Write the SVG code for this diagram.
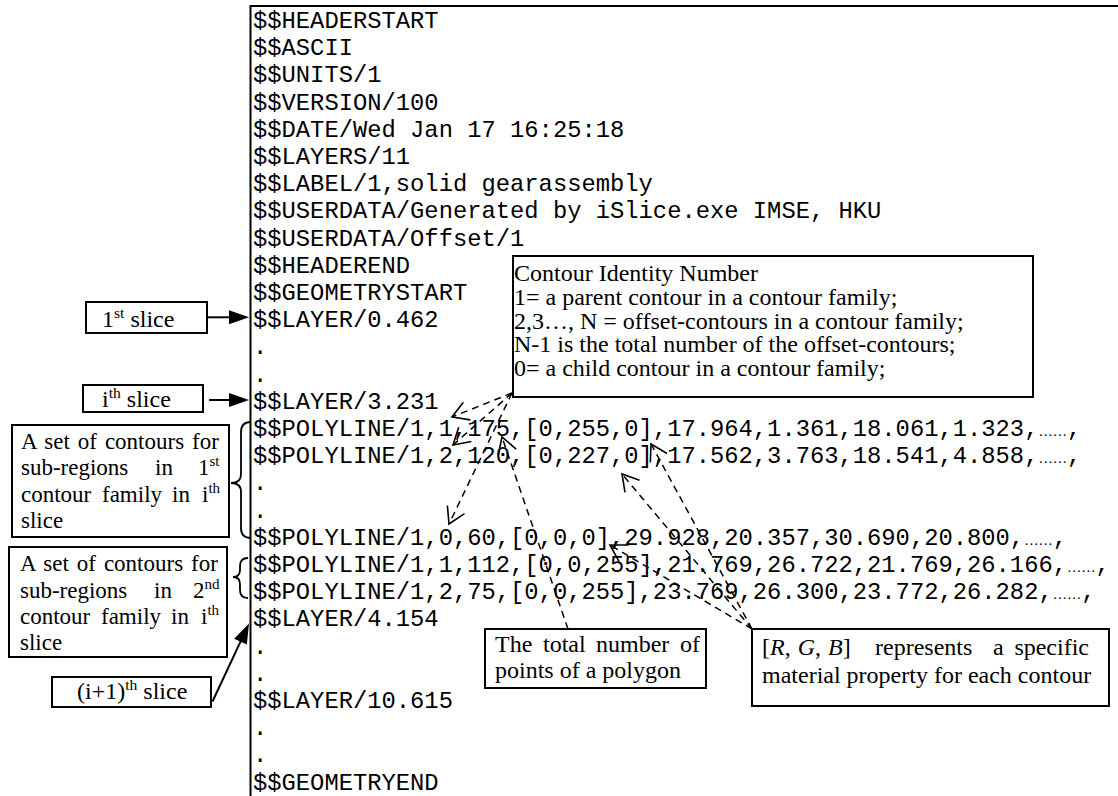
<svg xmlns="http://www.w3.org/2000/svg" width="1118" height="796" viewBox="0 0 1118 796">
<defs>
<style>
.mono{font-family:"Liberation Mono","Courier New",monospace;font-size:23.8px;fill:#000}
.ell{font-family:"Liberation Serif","Times New Roman",serif;font-size:14.3px}
.s24{font-family:"Liberation Serif","Times New Roman",serif;font-size:24px;fill:#000}
.s23{font-family:"Liberation Serif","Times New Roman",serif;font-size:23px;fill:#000}
.box{fill:#fff;stroke:#000;stroke-width:2}
.frame{fill:none;stroke:#000;stroke-width:2}
.dash{fill:none;stroke:#000;stroke-width:1.5;stroke-dasharray:7 5;marker-end:url(#open)}
.solid{fill:none;stroke:#000;stroke-width:2;marker-end:url(#filled)}
.brace{fill:none;stroke:#000;stroke-width:1.8}
</style>
<marker id="open" markerUnits="userSpaceOnUse" markerWidth="24" markerHeight="24" viewBox="-20 -12 24 24" refX="0" refY="0" orient="auto">
<path d="M-16,-9.5 L0,0 L-16,9.5" fill="none" stroke="#000" stroke-width="1.6"/>
</marker>
<marker id="filled" markerUnits="userSpaceOnUse" markerWidth="26" markerHeight="18" viewBox="-10 -9 26 18" refX="0" refY="0" orient="auto">
<path d="M-8,-7 L12,0 L-8,7 Z" fill="#000"/>
</marker>
</defs>

<rect x="0" y="0" width="1118" height="796" fill="#fff"/>

<g id="frame">
<path class="frame" d="M1118,6 L250.5,6 L250.5,796"/>
</g>

<g id="code" class="mono">
<text x="253" y="28">$$HEADERSTART</text>
<text x="253" y="55.2">$$ASCII</text>
<text x="253" y="82.4">$$UNITS/1</text>
<text x="253" y="109.6">$$VERSION/100</text>
<text x="253" y="136.8">$$DATE/Wed Jan 17 16:25:18</text>
<text x="253" y="164">$$LAYERS/11</text>
<text x="253" y="191.2">$$LABEL/1,solid gearassembly</text>
<text x="253" y="218.4">$$USERDATA/Generated by iSlice.exe IMSE, HKU</text>
<text x="253" y="245.6">$$USERDATA/Offset/1</text>
<text x="253" y="272.8">$$HEADEREND</text>
<text x="253" y="300">$$GEOMETRYSTART</text>
<text x="253" y="327.2">$$LAYER/0.462</text>
<text x="253" y="354.4">.</text>
<text x="253" y="381.6">.</text>
<text x="253" y="408.8">$$LAYER/3.231</text>
<text x="253" y="436">$$POLYLINE/1,1,175,[0,255,0],17.964,1.361,18.061,1.323,<tspan class="ell">……</tspan>,</text>
<text x="253" y="463.2">$$POLYLINE/1,2,120,[0,227,0],17.562,3.763,18.541,4.858,<tspan class="ell">……</tspan>,</text>
<text x="253" y="490.4">.</text>
<text x="253" y="517.6">.</text>
<text x="253" y="544.8">$$POLYLINE/1,0,60,[0,0,0],29.928,20.357,30.690,20.800,<tspan class="ell">……</tspan>,</text>
<text x="253" y="572">$$POLYLINE/1,1,112,[0,0,255],21.769,26.722,21.769,26.166,<tspan class="ell">……</tspan>,</text>
<text x="253" y="599.2">$$POLYLINE/1,2,75,[0,0,255],23.769,26.300,23.772,26.282,<tspan class="ell">……</tspan>,</text>
<text x="253" y="626.4">$$LAYER/4.154</text>
<text x="253" y="653.6">.</text>
<text x="253" y="680.8">.</text>
<text x="253" y="708">$$LAYER/10.615</text>
<text x="253" y="735.2">.</text>
<text x="253" y="762.4">.</text>
<text x="253" y="789.6">$$GEOMETRYEND</text>
</g>

<g id="n-first-slice">
<rect class="box" x="86" y="302" width="121" height="31"/>
<text class="s24" x="102" y="326.5">1<tspan dy="-9" font-size="15.6">st</tspan><tspan dy="9"> slice</tspan></text>
</g>

<g id="n-ith-slice">
<rect class="box" x="83" y="385" width="120" height="27"/>
<text class="s24" x="102" y="406.5">i<tspan dy="-9" font-size="15.6">th</tspan><tspan dy="9"> slice</tspan></text>
</g>

<g id="n-set1">
<rect class="box" x="12" y="425" width="217" height="112"/>
<text class="s23" x="21" y="449" word-spacing="2.2">A set of contours for</text>
<text class="s23" x="21" y="475">sub-regions</text>
<text class="s23" x="155" y="475">in</text>
<text class="s23" x="198" y="475">1<tspan dy="-9" font-size="15px">st</tspan></text>
<text class="s23" x="21" y="502">contour</text>
<text class="s23" x="102" y="502">family</text>
<text class="s23" x="172" y="502">in</text>
<text class="s23" x="202" y="502">i<tspan dy="-9" font-size="15px">th</tspan></text>
<text class="s23" x="21" y="528">slice</text>
</g>

<g id="n-set2">
<rect class="box" x="9" y="547" width="218" height="110"/>
<text class="s23" x="20" y="571" word-spacing="2.2">A set of contours for</text>
<text class="s23" x="20" y="598">sub-regions</text>
<text class="s23" x="154" y="598">in</text>
<text class="s23" x="193" y="598">2<tspan dy="-9" font-size="15px">nd</tspan></text>
<text class="s23" x="20" y="624">contour</text>
<text class="s23" x="101" y="624">family</text>
<text class="s23" x="171" y="624">in</text>
<text class="s23" x="201" y="624">i<tspan dy="-9" font-size="15px">th</tspan></text>
<text class="s23" x="20" y="650">slice</text>
</g>

<g id="n-next-slice">
<rect class="box" x="52" y="677" width="159" height="30"/>
<text class="s24" x="77" y="699">(i+1)<tspan dy="-9" font-size="15.6">th</tspan><tspan dy="9"> slice</tspan></text>
</g>

<g id="n-contour-id">
<rect class="box" x="513" y="256" width="520" height="141"/>
<text class="s24" x="514" y="281">Contour Identity Number</text>
<text class="s24" x="514" y="305">1= a parent contour in a contour family;</text>
<text class="s24" x="514" y="328.5">2,3…, N = offset-contours in a contour family;</text>
<text class="s24" x="514" y="352">N-1 is the total number of the offset-contours;</text>
<text class="s24" x="514" y="376">0= a child contour in a contour family;</text>
</g>

<g id="n-total-points">
<rect class="box" x="485" y="629" width="221" height="59"/>
<text class="s24" x="495" y="651.5">The</text>
<text class="s24" x="543" y="651.5">total</text>
<text class="s24" x="596" y="651.5">number</text>
<text class="s24" x="700" y="651.5" text-anchor="end">of</text>
<text class="s24" x="495" y="678">points of a polygon</text>
</g>

<g id="n-rgb">
<rect class="box" x="752" y="629" width="357" height="77"/>
<text class="s24" x="762" y="655">[<tspan font-style="italic">R</tspan>,<tspan dx="7" font-style="italic">G</tspan>,<tspan dx="7" font-style="italic">B</tspan>]</text>
<text class="s24" x="875" y="655">represents</text>
<text class="s24" x="993" y="655">a</text>
<text class="s24" x="1089" y="655" text-anchor="end">specific</text>
<text class="s24" x="762" y="682.5">material property for each contour</text>
</g>

<g id="connectors">
<line class="solid" x1="207" y1="317.3" x2="237" y2="317.3"/>
<line class="solid" x1="209" y1="400" x2="237" y2="400"/>
<line class="solid" x1="212.5" y1="701.5" x2="243.9" y2="634.4"/>
<path class="brace" d="M251,422 Q241,422 241,432 L241,474 Q241,483 231,483 Q241,483 241,492 L241,528 Q241,538 251,538"/>
<path class="brace" d="M248,558 Q240,558 240,566 L240,570 Q240,577 233,577 Q240,577 240,584 L240,590 Q240,598 248,598"/>
<line class="dash" x1="512" y1="393" x2="452" y2="417"/>
<line class="dash" x1="512" y1="393" x2="453" y2="445"/>
<line class="dash" x1="512" y1="393" x2="449" y2="524"/>
<line class="dash" x1="568" y1="629" x2="502" y2="437"/>
<line class="dash" x1="752" y1="629" x2="651" y2="444"/>
<line class="dash" x1="752" y1="629" x2="622" y2="474"/>
<line class="dash" x1="752" y1="629" x2="610" y2="545"/>
</g>
</svg>
